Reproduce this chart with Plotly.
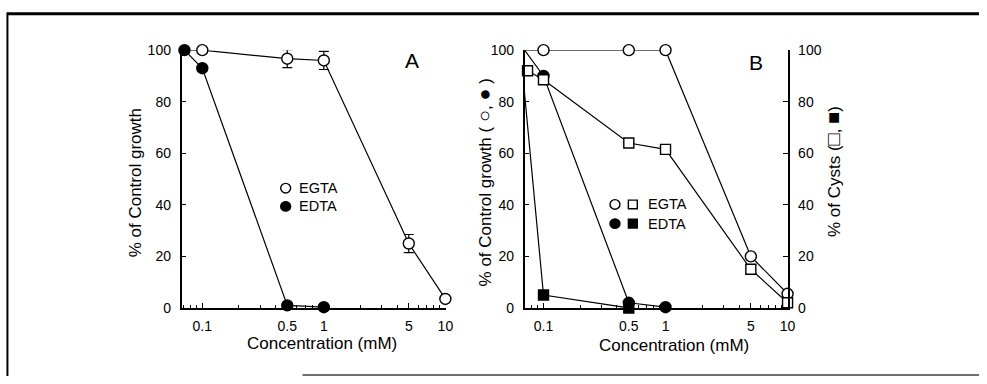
import plotly.graph_objects as go

# ---------------- data ----------------
# Panel A : % of control growth
a_egta_conc = [0.0637, 0.1, 0.5, 1, 5, 10]
a_egta_growth = [100, 100, 96.7, 96, 25, 3.5]
a_egta_err = [0, 0, 3.5, 3.5, 3.5, 0]
a_edta_conc = [0.0713, 0.1, 0.5, 1]
a_edta_growth = [100, 93, 1, 0.3]

# Panel B : % of control growth (circles) and % of cysts (squares)
b_egta_conc = [0.065, 0.1, 0.5, 1, 5, 10]
b_egta_growth = [100, 100, 100, 100, 20, 5.5]
b_edta_conc = [0.070, 0.1, 0.5, 1]
b_edta_growth = [100, 90, 2, 0.3]
b_egta_cyst_conc = [0.074, 0.1, 0.5, 1, 5, 10]
b_egta_cysts = [92, 88.5, 64, 61.5, 15, 2]
b_edta_cyst_conc = [0.067, 0.1, 0.5]
b_edta_cysts = [92.5, 5, 0]

x_tickvals = [0.1, 0.5, 1, 5, 10]
x_ticktext = ["0.1", "0.5", "1", "5", "10"]
x_minor = [0.07, 0.08, 0.09, 0.2, 0.3, 0.4, 0.6, 0.7, 0.8, 0.9, 2, 3, 4, 6, 7, 8, 9]
y_tickvals = [0, 20, 40, 60, 80, 100]

# ---------------- layout helpers ----------------
W, H = 987, 384
def px(x):
    return x / W
def py(y):
    return 1 - y / H

FONT = "Liberation Sans, Arial, DejaVu Sans, sans-serif"
BLACK = "black"

fig = go.Figure()

def line_trace(x, y, xa, ya, symbol, fill, name, err=None, size=11):
    kw = {}
    if err is not None:
        kw["error_y"] = dict(type="data", array=err, color=BLACK, thickness=1.2, width=5)
    fig.add_trace(go.Scatter(
        x=x, y=y, xaxis=xa, yaxis=ya, mode="lines+markers", name=name,
        line=dict(color=BLACK, width=1.2),
        marker=dict(symbol=symbol, size=size, color=fill, line=dict(color=BLACK, width=1.4)),
        cliponaxis=False, showlegend=False, **kw))

# Panel A
line_trace(a_edta_conc, a_edta_growth, "x", "y", "circle", BLACK, "EDTA")
line_trace(a_egta_conc, a_egta_growth, "x", "y", "circle", "white", "EGTA", err=a_egta_err)

# Panel B
line_trace(b_egta_conc, b_egta_growth, "x2", "y2", "circle", "white", "EGTA growth")
line_trace(b_edta_conc, b_edta_growth, "x2", "y2", "circle", BLACK, "EDTA growth")
line_trace(b_edta_cyst_conc, b_edta_cysts, "x2", "y3", "square", BLACK, "EDTA cysts", size=10)
line_trace(b_egta_cyst_conc, b_egta_cysts, "x2", "y3", "square", "white", "EGTA cysts", size=10)

tickfont = dict(family=FONT, size=14, color=BLACK)

def xaxis_cfg(d0, d1, r0, r1, anchor):
    return dict(
        type="log", domain=[px(d0), px(d1)], range=[r0, r1], anchor=anchor,
        tickmode="array", tickvals=x_tickvals, ticktext=x_ticktext,
        ticks="inside", ticklen=5, tickwidth=1.2, tickcolor=BLACK,
        minor=dict(tickmode="array", tickvals=x_minor, ticks="inside", ticklen=3,
                   tickwidth=1, tickcolor=BLACK, showgrid=False),
        showline=True, linecolor=BLACK, linewidth=1.5, showgrid=False, zeroline=False,
        tickfont=tickfont, ticklabelstandoff=4)

def yaxis_cfg(anchor, side="left"):
    return dict(
        domain=[py(313), py(44)], range=[0, 100], anchor=anchor, side=side,
        tickmode="array", tickvals=y_tickvals,
        ticks="inside", ticklen=5, tickwidth=1.2, tickcolor=BLACK,
        showline=True, linecolor=BLACK, linewidth=1.5, showgrid=False, zeroline=False,
        tickfont=tickfont, ticklabelstandoff=6)

y3 = yaxis_cfg("x2", side="right")
y3["overlaying"] = "y2"

fig.update_layout(
    width=W, height=H, margin=dict(l=0, r=0, t=0, b=0),
    paper_bgcolor="white", plot_bgcolor="rgba(0,0,0,0)",
    font=dict(family=FONT, color=BLACK),
    xaxis=xaxis_cfg(183, 450, -1.171, 1.008, "y"),
    yaxis=yaxis_cfg("x"),
    xaxis2=xaxis_cfg(529, 794, -1.154, 1.0, "y2"),
    yaxis2=yaxis_cfg("x2"),
    yaxis3=y3,
    showlegend=False,
)

ann = []
def text(x, y, s, size=17, angle=0, xanchor="center"):
    ann.append(dict(x=px(x), y=py(y), xref="paper", yref="paper", text=s,
                    showarrow=False, textangle=angle, xanchor=xanchor, yanchor="middle",
                    font=dict(family=FONT, size=size, color=BLACK)))

def big(s):
    return '<span style="font-size:20px">' + s + '</span>'

# axis titles
text(325, 350, "Concentration (mM)")
text(680, 352, "Concentration (mM)")
text(137, 182, "% of Control growth", angle=-90)
text(488, 182, "% of Control growth ( " + big("○") + ", " + big("●") + " )", angle=-90)
text(840, 171, "% of Cysts (" + big("□") + ", " + big("■") + ")", angle=-90)
# panel letters
text(415, 55, "A", size=21)
text(762, 57, "B", size=21)
# legends text
text(299, 188, "EGTA", size=14.5, xanchor="left")
text(299, 207, "EDTA", size=14.5, xanchor="left")
text(651, 205, "EGTA", size=14.5, xanchor="left")
text(651, 225, "EDTA", size=14.5, xanchor="left")
fig.update_layout(annotations=ann)

shapes = []
def sym(kind, cx, cy, filled, r=5):
    shapes.append(dict(type=kind, xref="paper", yref="paper",
                       x0=px(cx - r), x1=px(cx + r), y0=py(cy + r), y1=py(cy - r),
                       line=dict(color=BLACK, width=1.4),
                       fillcolor=BLACK if filled else "white"))
sym("circle", 288, 188, False)
sym("circle", 288, 207, True)
sym("circle", 620, 205, False)
sym("rect", 638, 205, False, r=4.5)
sym("circle", 620, 225, True)
sym("rect", 638, 225, True, r=4.5)

# outer frame (top, left, bottom)
shapes.append(dict(type="line", xref="paper", yref="paper", x0=px(7), x1=1, y0=py(6), y1=py(6),
                   line=dict(color=BLACK, width=3)))
shapes.append(dict(type="line", xref="paper", yref="paper", x0=px(7.5), x1=px(7.5), y0=py(5), y1=0,
                   line=dict(color=BLACK, width=2)))
shapes.append(dict(type="line", xref="paper", yref="paper", x0=px(305), x1=1, y0=py(383), y1=py(383),
                   line=dict(color="#707070", width=2)))
fig.update_layout(shapes=shapes)

fig.write_html("out.html")
